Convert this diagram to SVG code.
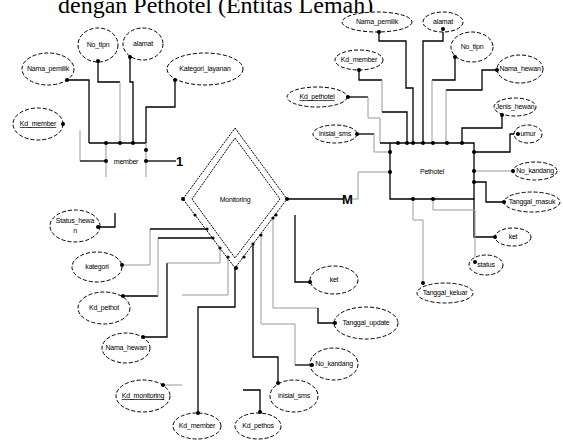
<svg xmlns="http://www.w3.org/2000/svg" width="563" height="441" viewBox="0 0 563 441">
<style>
.bg{fill:#fff}
.title{font-family:"Liberation Serif",serif;font-size:24px;fill:#000}
.att ellipse{fill:#fff;stroke:#000;stroke-width:1;stroke-dasharray:4,2}
.lbl{font-family:"Liberation Sans",Arial,sans-serif;font-size:7px;letter-spacing:-0.2px;fill:#000;text-anchor:middle}
.u{text-decoration:underline}
.card{font-family:"Liberation Sans",Arial,sans-serif;font-size:13px;font-weight:bold;fill:#000}
.dk{fill:none;stroke:#000;stroke-width:1.3}
.lt{fill:none;stroke:#999;stroke-width:1}
.dot{fill:#000}
.ent{fill:none;stroke:#000;stroke-width:1.3}
.dia{fill:#fff;stroke:#000;stroke-width:1;stroke-dasharray:2,1}
</style>
<rect class="bg" x="0" y="0" width="563" height="441"/>
<text class="title" x="58" y="13">dengan Pethotel (Entitas Lemah)</text>

<g id="connectors">
<polyline class="dk" points="67,80 89,80 89,143"/>
<polyline class="dk" points="98,61 98,82 120,82"/>
<polyline class="lt" points="120,82 120,143"/>
<polyline class="dk" points="130,57 130,82 133,82 133,143"/>
<polyline class="dk" points="175,80 175,107 146,107 146,143"/>
<polyline class="lt" points="80,130 80,161"/>
<polyline class="dk" points="80,161 106,161"/>
<polyline class="dk" points="146,161 176,161"/>
<polyline class="dk" points="379,32 379,41 406,41 406,88 413,88 413,143"/>
<polyline class="dk" points="443,29 443,41 423,41 423,143"/>
<polyline class="dk" points="455,57 455,80 432,80"/>
<polyline class="lt" points="432,80 432,143"/>
<polyline class="dk" points="497,70 482,70 482,90 446,90"/>
<polyline class="lt" points="446,90 446,143"/>
<polyline class="dk" points="359,70 359,80 382,80"/>
<polyline class="lt" points="382,80 382,112"/>
<polyline class="dk" points="382,112 407,112 407,143"/>
<polyline class="dk" points="348,97 368,97"/>
<polyline class="lt" points="368,97 368,118 380,118 380,143"/>
<polyline class="dk" points="502,115 502,128 462,128 462,143"/>
<polyline class="dk" points="518,134 510,134 510,152 474,152"/>
<polyline class="lt" points="474,171 513,171"/>
<polyline class="dk" points="474,182 486,182 486,202 504,202"/>
<polyline class="dk" points="474,199 474,237 495,237"/>
<polyline class="lt" points="433,199 433,210 475,210 475,262"/>
<polyline class="lt" points="413,199 413,220 423,220 423,283"/>
<polyline class="dk" points="357,134 374,134"/>
<polyline class="lt" points="374,134 374,152 390,152"/>
<polyline class="dk" points="287,199 343,199"/>
<polyline class="lt" points="352,199 358,199 358,172 390,172"/>
<polyline class="dk" points="98,227 115,227 115,213"/>
<polyline class="lt" points="122,265 150,265 150,229"/>
<polyline class="dk" points="150,229 207,229"/>
<polyline class="dk" points="123,296 158,296"/>
<polyline class="lt" points="158,296 158,238"/>
<polyline class="dk" points="158,238 213,238"/>
<polyline class="dk" points="143,337 167,337 167,263"/>
<polyline class="lt" points="167,263 220,263 220,248"/>
<polyline class="lt" points="163,385 182,385"/>
<polyline class="lt" points="182,295 228,295 228,257"/>
<polyline class="dk" points="198,413 198,307 235,307 235,268"/>
<polyline class="dk" points="260,412 260,390 243,390"/>
<polyline class="dk" points="253,244 253,357 278,357 278,383"/>
<polyline class="lt" points="261,235 261,324 295,324 295,365"/>
<polyline class="dk" points="295,365 312,365"/>
<polyline class="lt" points="273,218 273,308 318,308"/>
<polyline class="dk" points="318,308 318,323 335,323"/>
<polyline class="dk" points="295,215 295,282 310,282"/>
</g>

<g id="member">
<polyline class="dk" points="89,143 146,143"/>
<line class="lt" x1="106" y1="143" x2="106" y2="177"/>
<line class="lt" x1="146" y1="143" x2="146" y2="177"/>
<text class="lbl" x="126" y="164">member</text>
<text class="card" x="176" y="166">1</text>
</g>

<g id="pethotel">
<polyline class="ent" points="380,143 474,143 474,199 390,199 390,143"/>
<text class="lbl" x="432" y="174">Pethotel</text>
</g>

<g id="monitoring">
<polygon class="dia" points="235,128 287,199 235,268 183,199"/>
<polygon class="dia" points="235,138 280,199 235,258 192,199"/>
<text class="lbl" x="235" y="202">Monitoring</text>
<text class="card" x="342" y="204">M</text>
</g>

<g class="att">
<g id="a-no-tlpn-1"><ellipse cx="98" cy="45" rx="20" ry="17"/><text class="lbl" x="98" y="47">No_tlpn</text></g>
<g id="a-alamat-1"><ellipse cx="143" cy="44" rx="20" ry="16"/><text class="lbl" x="143" y="46">alamat</text></g>
<g id="a-nama-pemilik-1"><ellipse cx="48" cy="69" rx="26" ry="16"/><text class="lbl" x="48" y="71">Nama_pemilik</text></g>
<g id="a-kategori-layanan"><ellipse cx="205" cy="69" rx="38" ry="16"/><text class="lbl" x="205" y="71">Kategori_layanan</text></g>
<g id="a-kd-member-1"><ellipse cx="38" cy="124" rx="25" ry="16"/><text class="lbl u" x="38" y="126">Kd_member</text></g>
<g id="a-nama-pemilik-2"><ellipse cx="377" cy="22" rx="35" ry="10"/><text class="lbl" x="377" y="24">Nama_pemilik</text></g>
<g id="a-alamat-2"><ellipse cx="443" cy="22" rx="20" ry="10"/><text class="lbl" x="443" y="24">alamat</text></g>
<g id="a-no-tlpn-2"><ellipse cx="472" cy="47" rx="21" ry="15"/><text class="lbl" x="472" y="49">No_tlpn</text></g>
<g id="a-nama-hewan-1"><ellipse cx="520" cy="69" rx="23" ry="14"/><text class="lbl" x="520" y="71">Nama_hewan</text></g>
<g id="a-kd-member-2"><ellipse cx="359" cy="60" rx="24" ry="10"/><text class="lbl" x="359" y="62">Kd_member</text></g>
<g id="a-kd-pethotel-1"><ellipse cx="317" cy="97" rx="30" ry="10"/><text class="lbl u" x="317" y="99">Kd_pethotel</text></g>
<g id="a-jenis-hewan"><ellipse cx="515" cy="107" rx="21" ry="9"/><text class="lbl" x="515" y="109">Jenis_hewan</text></g>
<g id="a-inisial-sms-1"><ellipse cx="335" cy="134" rx="22" ry="9"/><text class="lbl" x="335" y="136">inisial_sms</text></g>
<g id="a-umur"><ellipse cx="528" cy="134" rx="14" ry="9"/><text class="lbl" x="528" y="136">umur</text></g>
<g id="a-no-kandang-1"><ellipse cx="535" cy="171" rx="22" ry="9"/><text class="lbl" x="535" y="173">No_kandang</text></g>
<g id="a-tanggal-masuk"><ellipse cx="532" cy="202" rx="28" ry="10"/><text class="lbl" x="532" y="204">Tanggal_masuk</text></g>
<g id="a-ket-1"><ellipse cx="513" cy="237" rx="18" ry="9"/><text class="lbl" x="513" y="239">ket</text></g>
<g id="a-status"><ellipse cx="486" cy="265" rx="17" ry="10"/><text class="lbl" x="486" y="267">status</text></g>
<g id="a-tanggal-keluar"><ellipse cx="445" cy="293" rx="28" ry="10"/><text class="lbl" x="445" y="295">Tanggal_keluar</text></g>
<g id="a-status-hewan"><ellipse cx="75" cy="226" rx="25" ry="16"/><text class="lbl" x="75" y="223">Status_hewa</text><text class="lbl" x="75" y="233">n</text></g>
<g id="a-kategori"><ellipse cx="97" cy="267" rx="25" ry="15"/><text class="lbl" x="97" y="269">kategori</text></g>
<g id="a-kd-pethotel-2"><ellipse cx="104" cy="308" rx="26" ry="16"/><text class="lbl" x="104" y="310">Kd_pethot</text></g>
<g id="a-nama-hewan-2"><ellipse cx="126" cy="348" rx="24" ry="15"/><text class="lbl" x="126" y="350">Nama_hewan</text></g>
<g id="a-kd-monitoring"><ellipse cx="143" cy="396" rx="27" ry="16"/><text class="lbl u" x="143" y="398">Kd_monitoring</text></g>
<g id="a-kd-member-3"><ellipse cx="197" cy="426" rx="24" ry="13"/><text class="lbl" x="197" y="428">Kd_member</text></g>
<g id="a-kd-pethos"><ellipse cx="258" cy="426" rx="23" ry="13"/><text class="lbl" x="258" y="428">Kd_pethos</text></g>
<g id="a-inisial-sms-2"><ellipse cx="294" cy="396" rx="24" ry="16"/><text class="lbl" x="294" y="398">inisial_sms</text></g>
<g id="a-no-kandang-2"><ellipse cx="334" cy="364" rx="24" ry="16"/><text class="lbl" x="334" y="366">No_kandang</text></g>
<g id="a-tanggal-update"><ellipse cx="366" cy="323" rx="32" ry="16"/><text class="lbl" x="366" y="325">Tanggal_update</text></g>
<g id="a-ket-2"><ellipse cx="334" cy="280" rx="24" ry="14"/><text class="lbl" x="334" y="282">ket</text></g>
</g>

<g id="dots" class="dot">
<circle cx="67" cy="80" r="2"/><circle cx="98" cy="61" r="2"/><circle cx="130" cy="57" r="2"/><circle cx="175" cy="80" r="2"/><circle cx="63" cy="124" r="2"/>
<circle cx="106" cy="143" r="2"/><circle cx="120" cy="143" r="2"/><circle cx="133" cy="143" r="2"/><circle cx="146" cy="150" r="2"/><circle cx="106" cy="161" r="2"/><circle cx="146" cy="161" r="2"/>
<circle cx="379" cy="32" r="2"/><circle cx="443" cy="29" r="2"/><circle cx="455" cy="57" r="2"/><circle cx="497" cy="70" r="2"/><circle cx="359" cy="70" r="2"/><circle cx="348" cy="97" r="2"/><circle cx="502" cy="115" r="2"/><circle cx="518" cy="134" r="2"/><circle cx="513" cy="171" r="2"/><circle cx="504" cy="202" r="2"/><circle cx="495" cy="237" r="2"/><circle cx="475" cy="262" r="2"/><circle cx="423" cy="283" r="2"/><circle cx="357" cy="134" r="2"/>
<circle cx="398" cy="143" r="2"/><circle cx="407" cy="143" r="2"/><circle cx="413" cy="143" r="2"/><circle cx="423" cy="143" r="2"/><circle cx="433" cy="143" r="2"/><circle cx="447" cy="143" r="2"/><circle cx="462" cy="143" r="2"/>
<circle cx="390" cy="152" r="2"/><circle cx="390" cy="172" r="2"/><circle cx="474" cy="152" r="2"/><circle cx="474" cy="171" r="2"/><circle cx="474" cy="182" r="2"/><circle cx="413" cy="199" r="2"/><circle cx="433" cy="199" r="2"/>
<circle cx="183" cy="199" r="2"/><circle cx="287" cy="199" r="2"/>
<circle cx="195" cy="215" r="1.6"/><circle cx="207" cy="229" r="1.6"/><circle cx="213" cy="238" r="1.6"/><circle cx="220" cy="248" r="1.6"/><circle cx="228" cy="257" r="1.6"/><circle cx="236" cy="268" r="2"/>
<circle cx="244" cy="257" r="1.6"/><circle cx="253" cy="244" r="1.6"/><circle cx="261" cy="235" r="1.6"/><circle cx="273" cy="218" r="1.6"/><circle cx="276" cy="215" r="1.6"/>
<circle cx="98" cy="227" r="2"/><circle cx="122" cy="265" r="2"/><circle cx="123" cy="296" r="2"/><circle cx="143" cy="337" r="2"/><circle cx="163" cy="385" r="2"/><circle cx="198" cy="413" r="2"/><circle cx="260" cy="412" r="2"/><circle cx="278" cy="383" r="2"/><circle cx="312" cy="365" r="2"/><circle cx="335" cy="323" r="2"/><circle cx="310" cy="282" r="2"/>
</g>
</svg>
